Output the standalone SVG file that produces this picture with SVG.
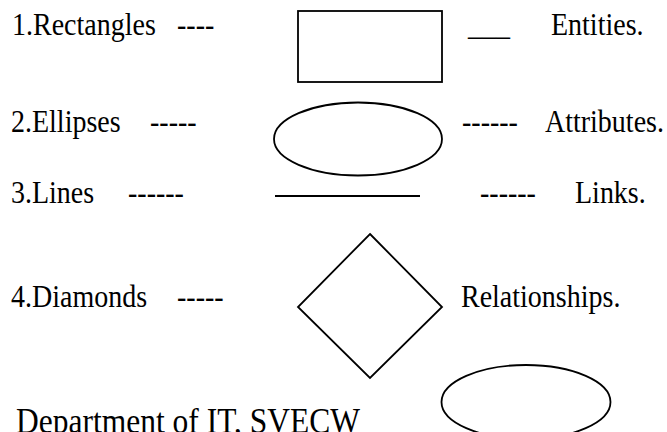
<svg xmlns="http://www.w3.org/2000/svg" width="667" height="432" viewBox="0 0 667 432">
<style>
text{font-family:"Liberation Serif","Times New Roman",serif;font-size:28px;fill:#000}
.shape{fill:none;stroke:#000;stroke-width:1.8}
</style>
<rect width="667" height="432" fill="#fff"/>
<g id="row1">
<text transform="translate(12,35) scale(1,1.12)">1.Rectangles</text>
<text transform="translate(177,35) scale(1,1.12)">----</text>
<text transform="translate(468,35) scale(1,1.12)">___</text>
<text transform="translate(551,35) scale(1,1.12)">Entities.</text>
</g>
<g id="rectangle"><rect class="shape" x="298" y="11" width="144" height="71"/></g>
<g id="row2">
<text transform="translate(11,132) scale(1,1.12)">2.Ellipses</text>
<text transform="translate(150,132) scale(1,1.12)">-----</text>
<text transform="translate(462,132) scale(1,1.12)">------</text>
<text transform="translate(545,132) scale(1,1.12)">Attributes.</text>
</g>
<g id="ellipse"><ellipse class="shape" cx="358" cy="139" rx="84" ry="36.5"/></g>
<g id="row3">
<text transform="translate(11,203) scale(1,1.12)">3.Lines</text>
<text transform="translate(128,203) scale(1,1.12)">------</text>
<text transform="translate(480,203) scale(1,1.12)">------</text>
<text transform="translate(575,203) scale(1,1.12)">Links.</text>
</g>
<g id="connectors"><line class="shape" x1="275" y1="196" x2="420" y2="196" stroke-width="2"/></g>
<g id="row4">
<text transform="translate(11,307) scale(1,1.12)">4.Diamonds</text>
<text transform="translate(177,307) scale(1,1.12)">-----</text>
<text transform="translate(461,307) scale(1,1.12)">Relationships.</text>
</g>
<g id="diamond"><polygon class="shape" points="370,234 442,307 370,378 298,307"/></g>
<g id="ellipse2"><ellipse class="shape" cx="526" cy="402" rx="84.5" ry="37"/></g>
<g id="footer"><text transform="translate(16,433) scale(1,1.12)" style="font-size:31.5px">Department of IT, SVECW</text></g>
</svg>
